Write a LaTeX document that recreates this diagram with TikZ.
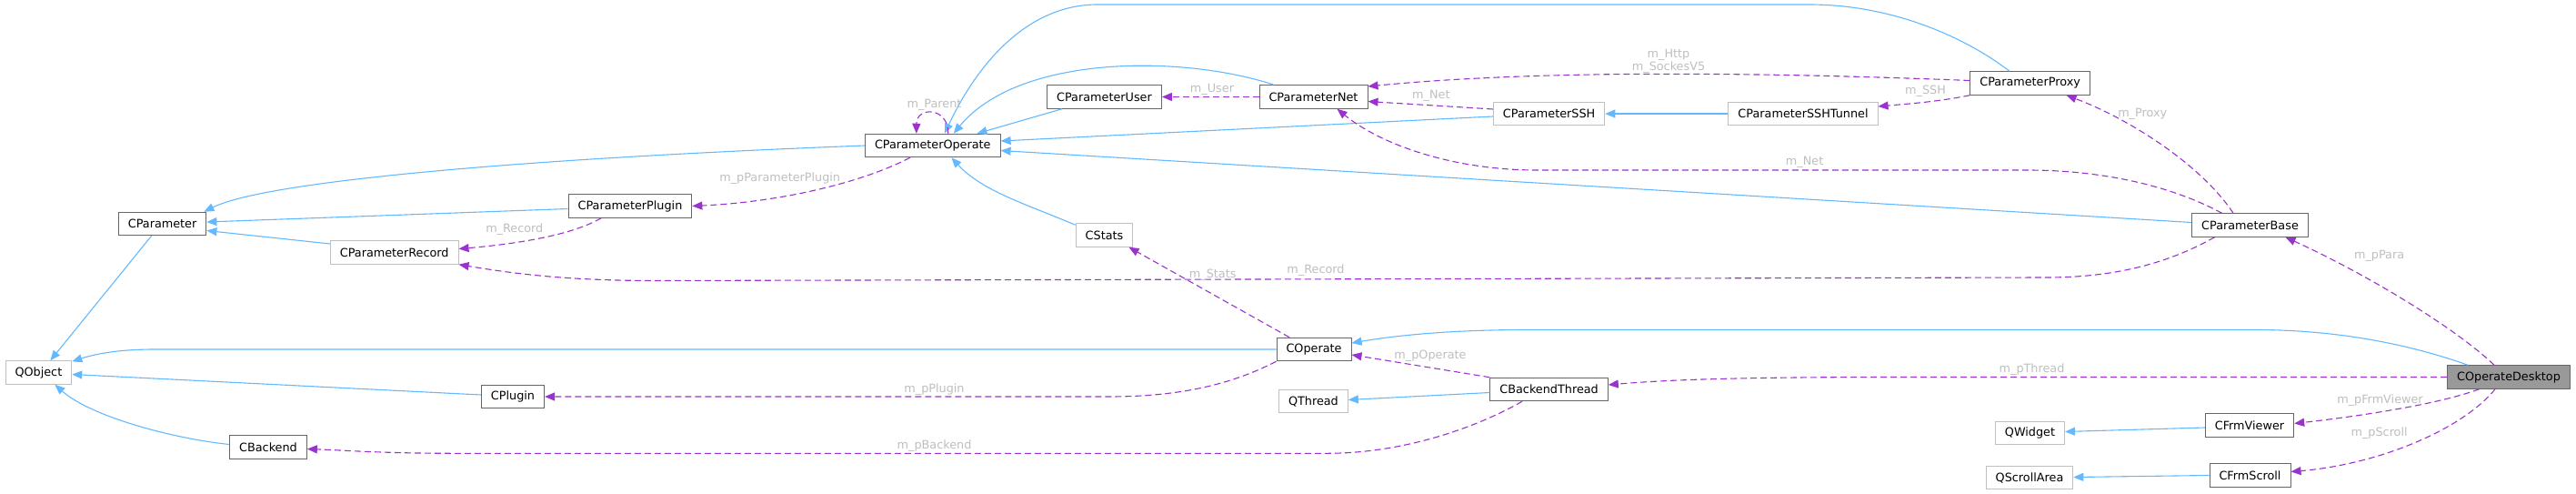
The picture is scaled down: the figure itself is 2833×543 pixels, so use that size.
\documentclass[tikz,border=0pt]{standalone}
\usepackage{fontspec}
\setmainfont{DejaVu Sans}
\usetikzlibrary{arrows.meta}
\definecolor{edgeblue}{HTML}{63B8FF}
\definecolor{edgepurple}{HTML}{9A32CD}
\definecolor{darkborder}{HTML}{666666}
\definecolor{lightborder}{HTML}{BFBFBF}
\definecolor{labelgray}{HTML}{BEBEBE}
\definecolor{mainfill}{HTML}{999999}

\begin{document}
\begin{tikzpicture}[x=1pt, y=-1pt,
    every node/.style={
        rectangle,
        draw=darkborder,
        line width=1pt,
        fill=white,
        inner xsep=10.5pt,
        inner ysep=0pt,
        minimum height=25.5pt,
        font=\fontsize{12.8}{14}\selectfont
    },
    edgelabel/.style={draw=none, fill=none, inner sep=0pt, minimum height=0pt, text=labelgray, align=center},
    inherit/.style={-{Triangle[length=11pt,width=9pt]}, edgeblue, line width=1.1pt},
    uses/.style={-{Triangle[length=11pt,width=9pt]}, edgepurple, line width=1.1pt, dash pattern=on 7pt off 4pt}
]
    \useasboundingbox (0,0) rectangle (2833,543);
    \node (QObject) [draw=lightborder, shift={(42.4, 409.5)}] {QObject};
    \node (CParameter) [shift={(178.6, 246)}] {CParameter};
    \node (CParameterRecord) [draw=lightborder, shift={(433.7, 277.5)}] {CParameterRecord};
    \node (CPlugin) [shift={(564, 436)}] {CPlugin};
    \node (CBackend) [shift={(295, 491.5)}] {CBackend};
    \node (CParameterPlugin) [shift={(693, 226.5)}] {CParameterPlugin};
    \node (CParameterOperate) [shift={(1025.8, 160)}] {CParameterOperate};
    \node (CParameterUser) [shift={(1214.5, 106.5)}] {CParameterUser};
    \node (CStats) [draw=lightborder, shift={(1214.5, 258.5)}] {CStats};
    \node (CParameterNet) [shift={(1444.5, 106.5)}] {CParameterNet};
    \node (CParameterSSH) [draw=lightborder, shift={(1703.6, 125)}] {CParameterSSH};
    \node (CParameterSSHTunnel) [draw=lightborder, shift={(1983, 125)}] {CParameterSSHTunnel};
    \node (CParameterProxy) [shift={(2232.6, 91.5)}] {CParameterProxy};
    \node (CParameterBase) [shift={(2474.5, 247.5)}] {CParameterBase};
    \node (COperate) [shift={(1445, 384)}] {COperate};
    \node (QThread) [draw=lightborder, shift={(1444.4, 441)}] {QThread};
    \node (CBackendThread) [shift={(1703.6, 428)}] {CBackendThread};
    \node (COperateDesktop) [fill=mainfill, shift={(2759, 414.5)}] {COperateDesktop};
    \node (QWidget) [draw=lightborder, shift={(2232.5, 476)}] {QWidget};
    \node (CFrmViewer) [shift={(2474, 467.5)}] {CFrmViewer};
    \node (QScrollArea) [draw=lightborder, shift={(2232, 525)}] {QScrollArea};
    \node (CFrmScroll) [shift={(2474.5, 522.5)}] {CFrmScroll};

    % inheritance
    \draw[inherit] ([xshift=-12pt]CParameter.south) -- ([xshift=13pt]QObject.north);
    \draw[inherit] (CParameterOperate.west) .. controls (560,175) and (290,200) .. ([xshift=-3pt]CParameter.north east);
    \draw[inherit] ([yshift=-3pt]CParameterPlugin.west) -- ([yshift=2pt]CParameter.east);
    \draw[inherit] ([yshift=9.5pt]CParameterRecord.west) -- ([yshift=-7.5pt]CParameter.east);
    \draw[inherit] (COperate.west) -- (170,384) .. controls (130,384) and (105,389) .. ([yshift=-1pt]QObject.north east);
    \draw[inherit] ([yshift=2pt]CPlugin.west) -- ([yshift=-2pt]QObject.east);
    \draw[inherit] ([yshift=3pt]CBackend.west) .. controls (190,482) and (100,458) .. ([xshift=18pt]QObject.south);
    \draw[inherit] ([xshift=-46.6pt]CParameterUser.south) -- ([xshift=48.7pt]CParameterOperate.north);
    \draw[inherit] ([xshift=-43.5pt]CParameterNet.north) .. controls (1300,60) and (1120,60) .. ([xshift=23pt]CParameterOperate.north);
    \draw[inherit] ([xshift=-22.6pt]CParameterProxy.north) .. controls (2160,40) and (2080,5) .. (1990,5) -- (1207,5) .. controls (1130,5) and (1075,70) .. ([xshift=13pt]CParameterOperate.north);
    \draw[inherit] ([yshift=-3pt]CParameterSSH.west) -- ([yshift=5pt]CParameterOperate.east);
    \draw[inherit] ([yshift=3pt]CParameterBase.west) -- ([yshift=-5.5pt]CParameterOperate.east);
    \draw[inherit] ([yshift=-2pt]CStats.north west) .. controls (1130,225) and (1080,210) .. ([xshift=20.6pt]CParameterOperate.south);
    \draw[inherit] (CParameterSSHTunnel.west) -- (CParameterSSH.east);
    \draw[inherit] ([xshift=-45pt]COperateDesktop.north) .. controls (2640,375) and (2560,362.5) .. (2480,362.5) -- (1680,362.5) .. controls (1600,362.5) and (1540,368) .. ([yshift=7pt]COperate.east);
    \draw[inherit] ([yshift=-3.5pt]CBackendThread.west) -- ([yshift=1.5pt]QThread.east);
    \draw[inherit] ([yshift=-2.5pt]CFrmViewer.west) -- ([yshift=1.5pt]QWidget.east);
    \draw[inherit] (CFrmScroll.west) -- ([yshift=0.5pt]QScrollArea.east);

    % members
    \draw[uses] ([xshift=17pt]CParameterOperate.north) .. controls (1043,117) and (1008,117) .. ([xshift=-18pt]CParameterOperate.north);
    \draw[uses] ([xshift=-25pt]CParameterOperate.south) .. controls (950,200) and (860,222) .. (CParameterPlugin.east);
    \draw[uses] ([xshift=-32pt]CParameterPlugin.south) .. controls (630,258) and (570,268) .. ([yshift=4pt]CParameterRecord.east);
    \draw[uses] (CParameterNet.west) -- (CParameterUser.east);
    \draw[uses] ([yshift=5pt]CParameterSSH.west) -- ([yshift=-5pt]CParameterNet.east);
    \draw[uses] ([yshift=3pt]CParameterProxy.west) .. controls (1950,80) and (1700,76) .. ([yshift=11.5pt]CParameterNet.east);
    \draw[uses] (CParameterProxy.south west) .. controls (2130,112) and (2100,114) .. ([yshift=8pt]CParameterSSHTunnel.east);
    \draw[uses] ([xshift=-18.5pt]CParameterBase.north) .. controls (2420,180) and (2340,130) .. ([xshift=40pt]CParameterProxy.south);
    \draw[uses] ([xshift=-31pt]CParameterBase.north) .. controls (2380,200) and (2300,187) .. (2230,187) -- (1690,187) .. controls (1600,187) and (1520,160) .. ([xshift=26pt]CParameterNet.south);
    \draw[uses] ([xshift=-39pt]CParameterBase.south) .. controls (2380,292) and (2320,305) .. (2250,305) -- (720,308.5) .. controls (620,308.5) and (560,300) .. (CParameterRecord.south east);
    \draw[uses] ([xshift=-27pt]COperate.north) -- ([xshift=27pt]CStats.south);
    \draw[uses] (COperate.south west) .. controls (1350,425) and (1290,436) .. (1220,436) -- (CPlugin.east);
    \draw[uses] (CBackendThread.north west) -- ([yshift=-6pt]COperate.east);
    \draw[uses] ([xshift=-29.6pt]CBackendThread.south) .. controls (1620,472) and (1540,498.3) .. (1460,498.3) -- (500,498.3) .. controls (420,498.3) and (380,495) .. ([yshift=-2pt]CBackend.east);
    \draw[uses] ([xshift=-16pt]COperateDesktop.north) .. controls (2700,360) and (2600,300) .. ([xshift=39pt]CParameterBase.south);
    \draw[uses] (COperateDesktop.west) -- (2100,414.5) .. controls (1950,414.5) and (1850,416) .. ([yshift=5pt]CBackendThread.east);
    \draw[uses] ([xshift=-32.5pt]COperateDesktop.south) .. controls (2680,445) and (2590,458) .. ([yshift=2pt]CFrmViewer.east);
    \draw[uses] ([xshift=-15pt]COperateDesktop.south) .. controls (2710,470) and (2620,510) .. ([yshift=4pt]CFrmScroll.east);

    % member names
    \node (lbl_parent) [edgelabel, shift={(1027.5, 115)}] {m\_Parent};
    \node (lbl_pparameterplugin) [edgelabel, shift={(857.7, 195.7)}] {m\_pParameterPlugin};
    \node (lbl_record_plugin) [edgelabel, shift={(565.8, 251.7)}] {m\_Record};
    \node (lbl_user) [edgelabel, shift={(1333, 98.3)}] {m\_User};
    \node (lbl_net_ssh) [edgelabel, shift={(1573.9, 105)}] {m\_Net};
    \node (lbl_http) [edgelabel, shift={(1835, 67)}] {m\_Http\\m\_SockesV5};
    \node (lbl_ssh) [edgelabel, shift={(2117.5, 100)}] {m\_SSH};
    \node (lbl_proxy) [edgelabel, shift={(2356.2, 125.3)}] {m\_Proxy};
    \node (lbl_net_base) [edgelabel, shift={(1984.6, 178.3)}] {m\_Net};
    \node (lbl_record_base) [edgelabel, shift={(1447, 297)}] {m\_Record};
    \node (lbl_stats) [edgelabel, shift={(1333.7, 302.3)}] {m\_Stats};
    \node (lbl_pplugin) [edgelabel, shift={(1027.5, 427.7)}] {m\_pPlugin};
    \node (lbl_poperate) [edgelabel, shift={(1573, 391.7)}] {m\_pOperate};
    \node (lbl_pbackend) [edgelabel, shift={(1027.5, 490)}] {m\_pBackend};
    \node (lbl_ppara) [edgelabel, shift={(2616.6, 281)}] {m\_pPara};
    \node (lbl_pthread) [edgelabel, shift={(2234.5, 406.5)}] {m\_pThread};
    \node (lbl_pfrmviewer) [edgelabel, shift={(2617.5, 440)}] {m\_pFrmViewer};
    \node (lbl_pscroll) [edgelabel, shift={(2616.6, 475.7)}] {m\_pScroll};
\end{tikzpicture}
\end{document}
